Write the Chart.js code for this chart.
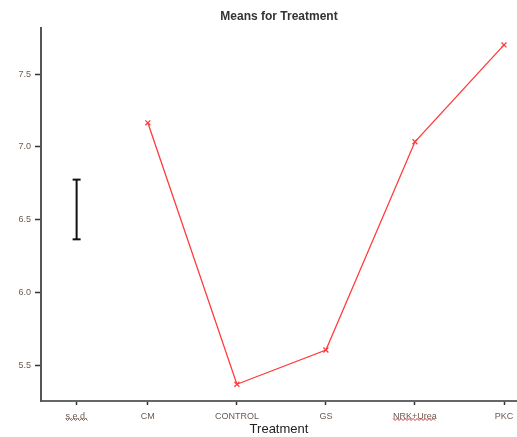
<!DOCTYPE html>
<html>
<head>
<meta charset="utf-8">
<script src="https://cdn.jsdelivr.net/npm/chart.js@4/dist/chart.umd.min.js"></script>
<style>
  html, body { margin: 0; padding: 0; background: #fff; }
  #wrap { width: 517px; height: 437px; }
</style>
</head>
<body>
<div id="wrap"><canvas id="c" width="517" height="437"></canvas></div>
<script>
// Treatment levels and their positions on the x axis
const categories = ['s.e.d.', 'CM', 'CONTROL', 'GS', 'NRK+Urea', 'PKC'];
const categoryPos = [0.2, 1, 2, 3, 4, 5];

// Treatment means (CM .. PKC)
const means = [7.165, 5.37, 5.605, 7.035, 7.70];

// Standard error of difference bar
const sedCentre = 6.57;
const sed = 0.41;

// Y tick values
const yTicks = [5.5, 6.0, 6.5, 7.0, 7.5];

// Chart heading and labels that get a squiggly underline
const chartTitle = 'Means for Treatment';
const underlined = ['s.e.d.', 'NRK+Urea'];

const FONT = '"Liberation Sans", Arial, sans-serif';

const meanPoints = means.map((v, i) => ({ x: categoryPos[i + 1], y: v }));
const sedPoints = [
  { x: categoryPos[0], y: sedCentre - sed / 2 },
  { x: categoryPos[0], y: sedCentre + sed / 2 }
];

// Heading centred over the plotting area
const heading = {
  id: 'heading',
  afterDraw(chart) {
    const ctx = chart.ctx;
    const a = chart.chartArea;
    ctx.save();
    ctx.font = 'bold 12px ' + FONT;
    ctx.fillStyle = '#333';
    ctx.textAlign = 'center';
    ctx.textBaseline = 'middle';
    ctx.fillText(chartTitle, (a.left + a.right) / 2, 16.5);
    ctx.restore();
  }
};

// Wavy red underline under selected tick labels
const squiggle = {
  id: 'squiggle',
  afterDraw(chart) {
    const ctx = chart.ctx;
    const xs = chart.scales.x;
    ctx.save();
    ctx.font = '9px ' + FONT;
    ctx.strokeStyle = '#e83030';
    ctx.lineWidth = 1;
    categories.forEach((lab, i) => {
      if (!underlined.includes(lab)) return;
      const cx = xs.getPixelForValue(categoryPos[i]);
      const w = ctx.measureText(lab).width;
      const y0 = 419.5;
      const x0 = cx - w / 2;
      ctx.beginPath();
      let up = true;
      for (let x = x0; x <= cx + w / 2; x += 2) {
        const yy = up ? y0 - 1 : y0 + 1;
        if (x === x0) ctx.moveTo(x, yy); else ctx.lineTo(x, yy);
        up = !up;
      }
      ctx.stroke();
    });
    ctx.restore();
  }
};

new Chart(document.getElementById('c'), {
  type: 'line',
  data: {
    datasets: [
      {
        label: 'Means',
        data: meanPoints,
        borderColor: '#ff3b3b',
        backgroundColor: '#ff3b3b',
        borderWidth: 1.3,
        pointStyle: 'crossRot',
        pointRadius: 3.5,
        pointBorderWidth: 1.3,
        tension: 0
      },
      {
        label: 's.e.d.',
        data: sedPoints,
        borderColor: '#111',
        backgroundColor: '#111',
        borderWidth: 2,
        pointStyle: 'line',
        pointRadius: 4,
        pointBorderWidth: 2
      }
    ]
  },
  options: {
    responsive: false,
    animation: false,
    events: [],
    layout: { autoPadding: false, padding: { left: 0, right: 0, top: 28, bottom: 0 } },
    plugins: {
      legend: { display: false },
      tooltip: { enabled: false },
      title: { display: false }
    },
    scales: {
      x: {
        type: 'linear',
        min: -0.2,
        max: 5.146,
        afterBuildTicks(scale) {
          scale.ticks = categoryPos.map(v => ({ value: v }));
        },
        afterFit(scale) {
          scale.height = 36;
          scale.paddingLeft = 0;
          scale.paddingRight = 0;
        },
        ticks: {
          autoSkip: false,
          maxRotation: 0,
          padding: 6,
          color: '#6b5a50',
          font: { family: FONT, size: 9 },
          callback(value) {
            const i = categoryPos.indexOf(value);
            return i >= 0 ? categories[i] : '';
          }
        },
        grid: {
          drawOnChartArea: false,
          drawTicks: true,
          tickLength: 4,
          tickColor: '#333',
          tickWidth: 1.5
        },
        border: { display: true, color: '#666', width: 2 },
        title: {
          display: true,
          text: 'Treatment',
          color: '#222',
          font: { family: FONT, size: 13 },
          padding: { top: 5, bottom: 0 }
        }
      },
      y: {
        type: 'linear',
        min: 5.255,
        max: 7.816,
        afterBuildTicks(scale) {
          scale.ticks = yTicks.map(v => ({ value: v }));
        },
        afterFit(scale) {
          scale.width = 41;
          scale.paddingTop = 0;
          scale.paddingBottom = 0;
        },
        ticks: {
          padding: 4,
          color: '#6b5a50',
          font: { family: FONT, size: 9 },
          callback(value) { return value.toFixed(1); }
        },
        grid: {
          drawOnChartArea: false,
          drawTicks: true,
          tickLength: 6,
          tickColor: '#333',
          tickWidth: 1.5
        },
        border: { display: true, color: '#555', width: 2 }
      }
    }
  },
  plugins: [heading, squiggle]
});
</script>
</body>
</html>
